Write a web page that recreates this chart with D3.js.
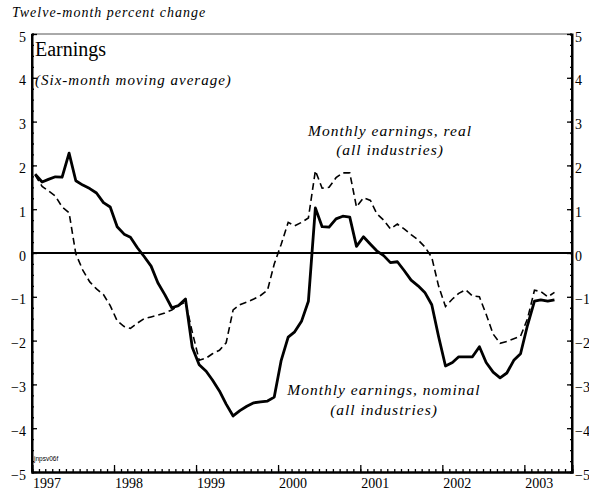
<!DOCTYPE html>
<html>
<head>
<meta charset="utf-8">
<script src="https://cdn.jsdelivr.net/npm/d3@7"></script>
<style>
  body { margin: 0; background: #fff; }
  svg { display: block; }
  text { font-family: "Liberation Serif", "Times New Roman", serif; fill: #000; }
</style>
</head>
<body>
<svg id="chart" width="589" height="491"></svg>
<script>
// ---- data (monthly, Jan 1997 – May 2003) ----
const startYear = 1997;
const nominal = [
  1.80, 1.62, 1.68, 1.74, 1.73, 2.28, 1.65, 1.55, 1.47, 1.37, 1.15, 1.05,
  0.60, 0.43, 0.36, 0.12, -0.08, -0.30, -0.68, -0.95, -1.25, -1.20, -1.05, -2.15,
  -2.55, -2.70, -2.90, -3.15, -3.45, -3.72, -3.60, -3.50, -3.42, -3.40, -3.38, -3.29,
  -2.45, -1.92, -1.80, -1.55, -1.10, 1.03, 0.60, 0.59, 0.78, 0.84, 0.82, 0.15,
  0.37, 0.20, 0.05, -0.06, -0.22, -0.20, -0.40, -0.62, -0.75, -0.90, -1.18, -1.90,
  -2.58, -2.50, -2.37, -2.37, -2.37, -2.14, -2.50, -2.72, -2.85, -2.74, -2.45, -2.30,
  -1.65, -1.10, -1.07, -1.10, -1.07
];
const real = [
  1.78, 1.52, 1.42, 1.30, 1.05, 0.92, -0.02, -0.39, -0.66, -0.82, -0.95, -1.20,
  -1.55, -1.68, -1.72, -1.60, -1.50, -1.46, -1.42, -1.37, -1.30, -1.20, -1.12, -1.80,
  -2.45, -2.40, -2.30, -2.22, -2.05, -1.30, -1.18, -1.12, -1.05, -0.97, -0.85, -0.25,
  0.20, 0.70, 0.62, 0.70, 0.80, 1.88, 1.48, 1.50, 1.72, 1.83, 1.83, 1.05,
  1.26, 1.20, 0.90, 0.75, 0.55, 0.66, 0.55, 0.42, 0.30, 0.14, -0.10, -0.75,
  -1.22, -1.05, -0.92, -0.84, -0.98, -1.00, -1.40, -1.85, -2.06, -2.02, -1.96, -1.90,
  -1.50, -0.85, -0.88, -1.00, -0.90
];
const yTicks = [5, 4, 3, 2, 1, 0, -1, -2, -3, -4, -5];
const yearLabels = ["1997", "1998", "1999", "2000", "2001", "2002", "2003"];
const yAxisTitle = "Twelve-month percent change";
const panelTitle = "Earnings";
const panelSubtitle = "(Six-month moving average)";
const realLabel = ["Monthly earnings, real", "(all industries)"];
const nominalLabel = ["Monthly earnings, nominal", "(all industries)"];
const codeLabel = "jnpsv06f";

// ---- layout ----
const svg = d3.select("#chart");
const L = 32, R = 572, T = 34, B = 472;
const x = d3.scaleTime()
  .domain([new Date(1997, 0, 1), new Date(2003, 7, 1)])
  .range([L, R]);
const y = d3.scaleLinear().domain([-5, 5]).range([B, T]);
const dateOf = i => new Date(startYear, i, 15);

// frame top (thin)
svg.append("line").attr("x1", L).attr("x2", R).attr("y1", T).attr("y2", T)
  .attr("stroke", "#555").attr("stroke-width", 1);

// left axis
const leftAxis = d3.axisLeft(y).tickValues(yTicks).tickSize(-5).tickPadding(6)
  .tickFormat(d3.format("d"));
const gl = svg.append("g").attr("transform", `translate(${L},0)`).call(leftAxis);
const leftMinor = d3.axisLeft(y).tickValues(d3.range(-5, 5.001, 0.25)).tickSize(-2).tickFormat("");
svg.append("g").attr("transform", `translate(${L},0)`).call(leftMinor);

// right axis
const rightAxis = d3.axisRight(y).tickValues(yTicks).tickSize(-5).tickPadding(3)
  .tickFormat(d3.format("d"));
const gr = svg.append("g").attr("transform", `translate(${R},0)`).call(rightAxis);
const rightMinor = d3.axisRight(y).tickValues(d3.range(-5, 5.001, 0.25)).tickSize(-2).tickFormat("");
svg.append("g").attr("transform", `translate(${R},0)`).call(rightMinor);

// bottom axis: monthly minor ticks + yearly ticks
const monthAxis = d3.axisBottom(x).tickValues(d3.timeMonth.range(new Date(1997, 0, 1), new Date(2003, 7, 1)))
  .tickSize(-3).tickFormat("");
svg.append("g").attr("transform", `translate(0,${B})`).call(monthAxis);
const yearAxis = d3.axisBottom(x).tickValues(d3.timeYear.range(new Date(1998, 0, 1), new Date(2003, 7, 1)))
  .tickSize(-7).tickFormat("");
svg.append("g").attr("transform", `translate(0,${B})`).call(yearAxis);

svg.selectAll(".domain").attr("stroke", "#000").attr("stroke-width", 2);
svg.selectAll(".tick line").attr("stroke", "#000").attr("stroke-width", 1.3);
svg.selectAll(".tick text")
  .style("font-family", "Liberation Serif").style("font-size", "14px")
  .attr("dy", "0.5em");
gl.selectAll(".domain").attr("d", `M0,${T}V${B}`);
gr.selectAll(".domain").attr("d", `M0,${T}V${B}`);

// year labels
svg.append("g").selectAll("text").data(yearLabels).join("text")
  .attr("x", (d) => x(new Date(+d, 0, 1)) + 1)
  .attr("y", 488)
  .style("font-size", "14px")
  .text(d => d);

// zero line
svg.append("line").attr("x1", L).attr("x2", R).attr("y1", y(0)).attr("y2", y(0))
  .attr("stroke", "#000").attr("stroke-width", 2);

// lines
const line = d3.line().x((d, i) => x(dateOf(i))).y(d => y(d)).curve(d3.curveLinear);
svg.append("path").datum(real).attr("d", line)
  .attr("fill", "none").attr("stroke", "#000").attr("stroke-width", 1.6)
  .attr("stroke-dasharray", "7,4");
svg.append("path").datum(nominal).attr("d", line)
  .attr("fill", "none").attr("stroke", "#000").attr("stroke-width", 2.8)
  .attr("stroke-linejoin", "round");

// texts
svg.append("text").attr("x", 12).attr("y", 17)
  .style("font-style", "italic").style("font-size", "14px").style("letter-spacing", "1px")
  .text(yAxisTitle);
svg.append("text").attr("x", 35).attr("y", 56)
  .style("font-size", "20px").text(panelTitle);
svg.append("text").attr("x", 35).attr("y", 85)
  .style("font-style", "italic").style("font-size", "15px").style("letter-spacing", "1px")
  .text(panelSubtitle);

svg.append("g").selectAll("text").data(realLabel).join("text")
  .attr("x", 390).attr("y", (d, i) => 136 + i * 19)
  .attr("text-anchor", "middle")
  .style("font-style", "italic").style("font-size", "15.5px").style("letter-spacing", "1px")
  .text(d => d);
svg.append("g").selectAll("text").data(nominalLabel).join("text")
  .attr("x", 384).attr("y", (d, i) => 395 + i * 20)
  .attr("text-anchor", "middle")
  .style("font-style", "italic").style("font-size", "15.5px").style("letter-spacing", "1px")
  .text(d => d);

svg.append("text").attr("x", 34).attr("y", 461)
  .style("font-family", "Liberation Sans").style("font-size", "6.5px").text(codeLabel);
</script>
</body>
</html>
